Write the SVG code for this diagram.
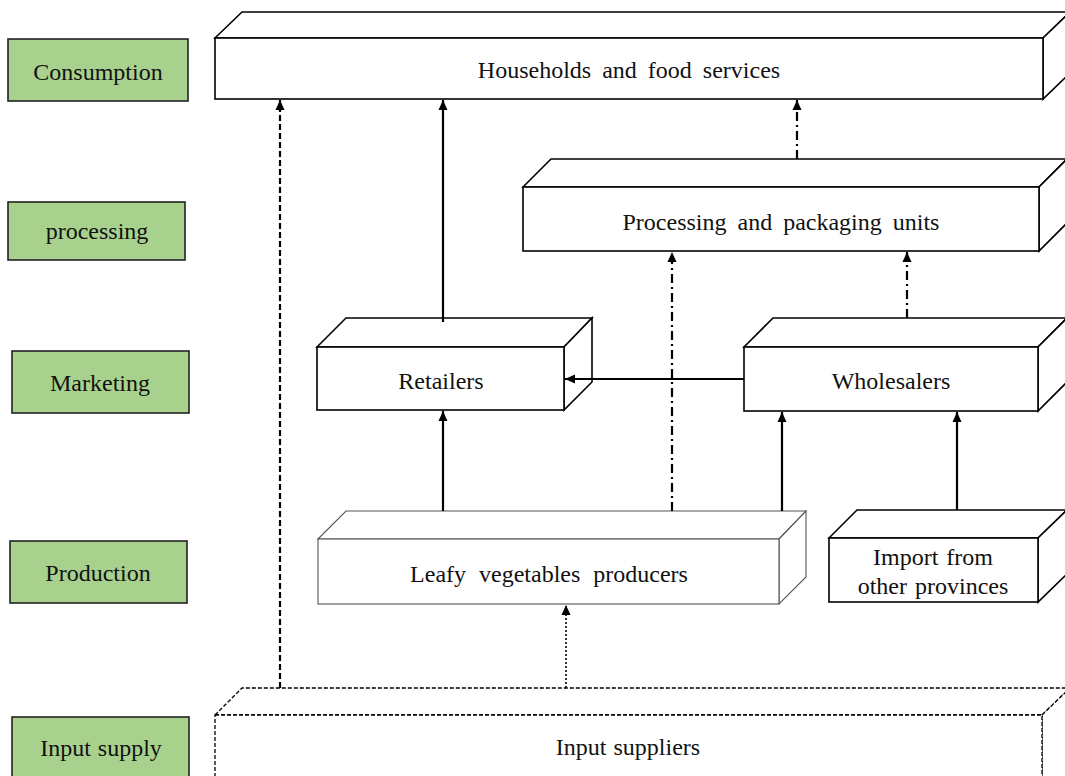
<svg xmlns="http://www.w3.org/2000/svg" width="1065" height="776" viewBox="0 0 1065 776">
<style>
.box{fill:#fff;stroke:#000;stroke-width:1.6;stroke-linejoin:miter}
.thin{fill:#fff;stroke:#555;stroke-width:1.1}
.dbox{fill:#fff;stroke:#000;stroke-width:1.3;stroke-dasharray:4 2}
.lab{fill:#a9d18e;stroke:#222;stroke-width:1.6}
.t{font-family:"Liberation Serif","Times New Roman",serif;font-size:24px;fill:#111;text-anchor:middle;word-spacing:5px}
.c{fill:none;stroke:#000;stroke-width:2.2}
.dash{stroke-dasharray:6 3}
.dot{stroke-dasharray:2 2;stroke-width:1.6}
.dd{stroke-dasharray:9 4 2 4}
</style>
<defs>
<marker id="ah" markerUnits="userSpaceOnUse" markerWidth="10" markerHeight="10" refX="10" refY="5" orient="auto">
<path d="M0,0.5 L10,5 L0,9.5 z" fill="#000"/>
</marker>
</defs>

<g id="stage-labels">
<g id="lab-consumption"><rect class="lab" x="8" y="39" width="180" height="62"/><text class="t" x="98" y="80">Consumption</text></g>
<g id="lab-processing"><rect class="lab" x="8" y="202" width="177" height="58"/><text class="t" x="97" y="239">processing</text></g>
<g id="lab-marketing"><rect class="lab" x="12" y="351" width="177" height="62"/><text class="t" x="100" y="391">Marketing</text></g>
<g id="lab-production"><rect class="lab" x="10" y="541" width="177" height="62"/><text class="t" x="98" y="581">Production</text></g>
<g id="lab-input"><rect class="lab" x="12" y="717" width="177" height="62"/><text class="t" x="101" y="756" style="word-spacing:1px">Input supply</text></g>
</g>

<g id="households">
<polygon class="box" points="215,38 242,12 1070,12 1043,38"/>
<polygon class="box" points="1043,38 1070,12 1070,73 1043,99"/>
<rect class="box" x="215" y="38" width="828" height="61"/>
<text class="t" x="629" y="78">Households and food services</text>
</g>

<g id="processing">
<polygon class="box" points="523,187 551,159 1067,159 1039,187"/>
<polygon class="box" points="1039,187 1067,159 1067,223 1039,251"/>
<rect class="box" x="523" y="187" width="516" height="64"/>
<text class="t" x="781" y="230">Processing and packaging units</text>
</g>

<g id="retailers">
<polygon class="box" points="317,347 346,318 592,318 564,347"/>
<polygon class="box" points="564,347 592,318 592,382 564,410"/>
<rect class="box" x="317" y="347" width="247" height="63"/>
<text class="t" x="441" y="389">Retailers</text>
</g>

<g id="wholesalers">
<polygon class="box" points="744,347 773,318 1067,318 1038,347"/>
<polygon class="box" points="1038,347 1067,318 1067,382 1038,411"/>
<rect class="box" x="744" y="347" width="294" height="64"/>
<text class="t" x="891" y="389">Wholesalers</text>
</g>

<g id="producers">
<polygon class="thin" points="318,539 346,511 806,511 779,539"/>
<polygon class="thin" points="779,539 806,511 806,577 779,604"/>
<rect class="thin" x="318" y="539" width="461" height="65"/>
<text class="t" x="549" y="582" style="word-spacing:7px">Leafy vegetables producers</text>
</g>

<g id="import">
<polygon class="box" points="829,538 857,510 1067,510 1038,538"/>
<polygon class="box" points="1038,538 1067,510 1067,574 1038,602"/>
<rect class="box" x="829" y="538" width="209" height="64"/>
<text class="t" x="933" y="565" style="word-spacing:2px">Import from</text>
<text class="t" x="933" y="594" style="word-spacing:2px">other provinces</text>
</g>

<g id="suppliers">
<polygon class="dbox" points="215,715 242,688 1070,688 1042,715"/>
<polygon class="dbox" points="1042,715 1070,688 1070,780 1042,790"/>
<rect class="dbox" x="215" y="715" width="827" height="80"/>
<text class="t" x="628" y="755" style="word-spacing:1px">Input suppliers</text>
</g>

<g id="connectors">
<line class="c dash" x1="280" y1="688" x2="280" y2="100" marker-end="url(#ah)"/>
<line class="c dot" x1="566" y1="688" x2="566" y2="605" marker-end="url(#ah)"/>
<line class="c" x1="443" y1="322" x2="443" y2="100" marker-end="url(#ah)"/>
<line class="c dd" x1="797" y1="159" x2="797" y2="100" marker-end="url(#ah)"/>
<line class="c" x1="443" y1="511" x2="443" y2="411" marker-end="url(#ah)"/>
<line class="c dd" x1="672" y1="511" x2="672" y2="252" marker-end="url(#ah)"/>
<line class="c" x1="782" y1="511" x2="782" y2="412" marker-end="url(#ah)"/>
<line class="c" x1="957" y1="510" x2="957" y2="412" marker-end="url(#ah)"/>
<line class="c dd" x1="907" y1="318" x2="907" y2="252" marker-end="url(#ah)"/>
<line class="c" x1="744" y1="379" x2="565" y2="379" marker-end="url(#ah)"/>
</g>
</svg>
